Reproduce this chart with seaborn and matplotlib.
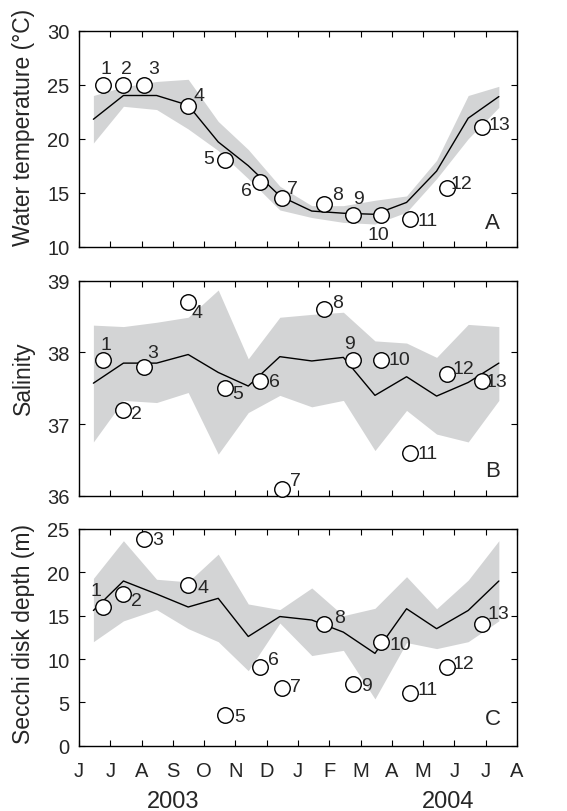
import matplotlib
matplotlib.use("Agg")
import matplotlib.pyplot as plt
import matplotlib.transforms as mtransforms
import seaborn as sns
import numpy as np
import pandas as pd

# ---------------- data ----------------
month_labels = ["J", "J", "A", "S", "O", "N", "D", "J", "F", "M", "A", "M", "J", "J", "A"]
# time in months since 1 June 2003
clim_time = [0.46, 1.42, 2.48, 3.49, 4.45, 5.41, 6.42, 7.44, 8.45, 9.46, 10.47, 11.43, 12.44, 13.42]
sample_time = [0.78, 1.40, 2.08, 3.50, 4.67, 5.78, 6.50, 7.83, 8.75, 9.65, 10.58, 11.77, 12.88]
sample_ids = [str(i) for i in range(1, 14)]

temp_mean = [21.8, 24.0, 24.0, 23.1, 19.7, 17.5, 14.7, 13.3, 13.1, 13.0, 14.1, 17.0, 21.9, 23.9]
temp_upper = [24.0, 24.8, 25.3, 25.5, 21.6, 19.0, 15.6, 13.8, 13.8, 14.3, 14.7, 18.0, 24.0, 24.85]
temp_lower = [19.6, 23.0, 22.7, 20.9, 18.9, 16.3, 13.4, 12.7, 12.25, 12.1, 13.2, 16.3, 20.0, 22.9]
temp_obs = [25.0, 25.0, 25.0, 23.0, 18.0, 16.0, 14.5, 14.0, 12.9, 12.9, 12.6, 15.4, 21.1]

sal_mean = [37.57, 37.85, 37.85, 37.97, 37.72, 37.53, 37.94, 37.88, 37.93, 37.40, 37.66, 37.39, 37.58, 37.85]
sal_upper = [38.38, 38.36, 38.42, 38.49, 38.87, 37.91, 38.49, 38.53, 38.56, 38.16, 38.13, 37.93, 38.39, 38.36]
sal_lower = [36.75, 37.33, 37.30, 37.44, 36.58, 37.16, 37.40, 37.24, 37.33, 36.63, 37.19, 36.86, 36.75, 37.33]
sal_obs = [37.9, 37.2, 37.8, 38.7, 37.5, 37.6, 36.1, 38.6, 37.9, 37.9, 36.6, 37.7, 37.6]

secchi_mean = [15.6, 19.0, 17.5, 16.0, 17.0, 12.6, 14.9, 14.5, 13.1, 10.65, 15.8, 13.5, 15.6, 19.0]
secchi_upper = [19.3, 23.65, 19.2, 18.9, 22.1, 16.35, 15.7, 18.2, 15.0, 15.85, 19.5, 15.8, 19.1, 23.65]
secchi_lower = [12.0, 14.4, 15.7, 13.5, 12.0, 8.65, 14.15, 10.4, 11.0, 5.4, 11.9, 11.2, 12.0, 14.4]
secchi_obs = [16.0, 17.5, 23.9, 18.5, 3.5, 9.1, 6.6, 14.0, 7.1, 12.0, 6.1, 9.1, 14.0]

# ---------------- layout (label offsets in pixels) ----------------
offsets_A = [(2.7, 16.3), (4, 16.3), (9.3, 15.7), (10.3, 11), (-16.7, 2.3), (-13.3, -9),
             (10, 9.3), (13.3, 9.3), (5.7, 16.7), (-2.7, -19.3), (17.5, -1.7), (14.3, 5.3), (17, 2.7)]
offsets_B = [(2.7, 15), (13.3, -4.3), (8.7, 14.7), (9, -10.7), (12.7, -5.7), (15, -0.3),
             (12.7, 8.3), (13.3, 6.7), (-3.3, 16), (18, 0), (17.5, -1), (16.5, 5.7), (14.5, -0.7)]
offsets_C = [(-7.3, 17), (14, -6), (13.3, -0.7), (14.7, -2.3), (14.3, -1.3), (14, 7.7),
             (12.7, 2), (15.3, 6.7), (13.3, -1.7), (19, -2.7), (17.5, 3), (16.5, 3.7), (16, 10.7)]

sns.set_theme(style="ticks")
plt.rcParams["font.family"] = ["Liberation Sans", "DejaVu Sans"]

W, H = 567, 812
fig = plt.figure(figsize=(W / 100, H / 100), dpi=100)

def frac(left, top, right, bottom):
    return [left / W, 1 - bottom / H, (right - left) / W, (bottom - top) / H]

axA = fig.add_axes(frac(79, 31.7, 517, 247.7))
axB = fig.add_axes(frac(79, 281.7, 517, 496.7))
axC = fig.add_axes(frac(79, 530, 517, 746.7))

panels = [
    (axA, temp_mean, temp_upper, temp_lower, temp_obs, offsets_A, (10, 30), [10, 15, 20, 25, 30],
     "Water temperature (°C)", "A", 0.11, 0.555),
    (axB, sal_mean, sal_upper, sal_lower, sal_obs, offsets_B, (36, 39), [36, 37, 38, 39],
     "Salinity", "B", 0.116, 0.55),
    (axC, secchi_mean, secchi_upper, secchi_lower, secchi_obs, offsets_C, (0, 25), [0, 5, 10, 15, 20, 25],
     "Secchi disk depth (m)", "C", 0.126, 0.52),
]

for ax, mean, up, lo, obs, offs, ylim, yticks, ylabel, letter, ly, laby in panels:
    clim = pd.DataFrame({"t": clim_time, "mean": mean, "up": up, "lo": lo})
    samp = pd.DataFrame({"t": sample_time, "v": obs, "id": sample_ids})
    ax.fill_between(clim["t"], clim["lo"], clim["up"], color="#d3d4d5", lw=0, zorder=1)
    sns.lineplot(data=clim, x="t", y="mean", ax=ax, color="black", lw=1.0, zorder=2)
    sns.scatterplot(data=samp, x="t", y="v", ax=ax, s=125, facecolor="white",
                    edgecolor="black", linewidth=1.0, zorder=3, clip_on=False)
    for (t, v, lab), (dx, dy) in zip(zip(sample_time, obs, sample_ids), offs):
        ax.annotate(lab, (t, v), xytext=(dx, dy), textcoords="offset pixels",
                    ha="center", va="center", fontsize=14, zorder=4)
    ax.set_xlim(0, 14)
    ax.set_ylim(*ylim)
    ax.set_xticks(range(15))
    ax.set_yticks(yticks)
    ax.tick_params(direction="in", length=4, width=0.8, top=True, right=True,
                   labelsize=14.5, pad=7, color="black")
    for sp in ax.spines.values():
        sp.set_linewidth(1.0)
        sp.set_color("black")
    ax.set_xlabel("")
    ax.set_ylabel(ylabel, fontsize=16.5)
    ax.yaxis.set_label_coords(-0.10, laby)
    ax.text(0.944, ly, letter, transform=ax.transAxes, ha="center", va="center", fontsize=16)
    ax.set_facecolor("white")

for ax in (axA, axB):
    ax.set_xticklabels([])
axC.set_xticklabels(month_labels)
axC.tick_params(axis="x", pad=11)

trans = mtransforms.blended_transform_factory(axC.transData, axC.transAxes)
axC.text(3.0, -0.254, "2003", transform=trans, ha="center", va="center", fontsize=17)
axC.text(11.8, -0.254, "2004", transform=trans, ha="center", va="center", fontsize=17)

fig.savefig("out.png", dpi=100, facecolor="white")
